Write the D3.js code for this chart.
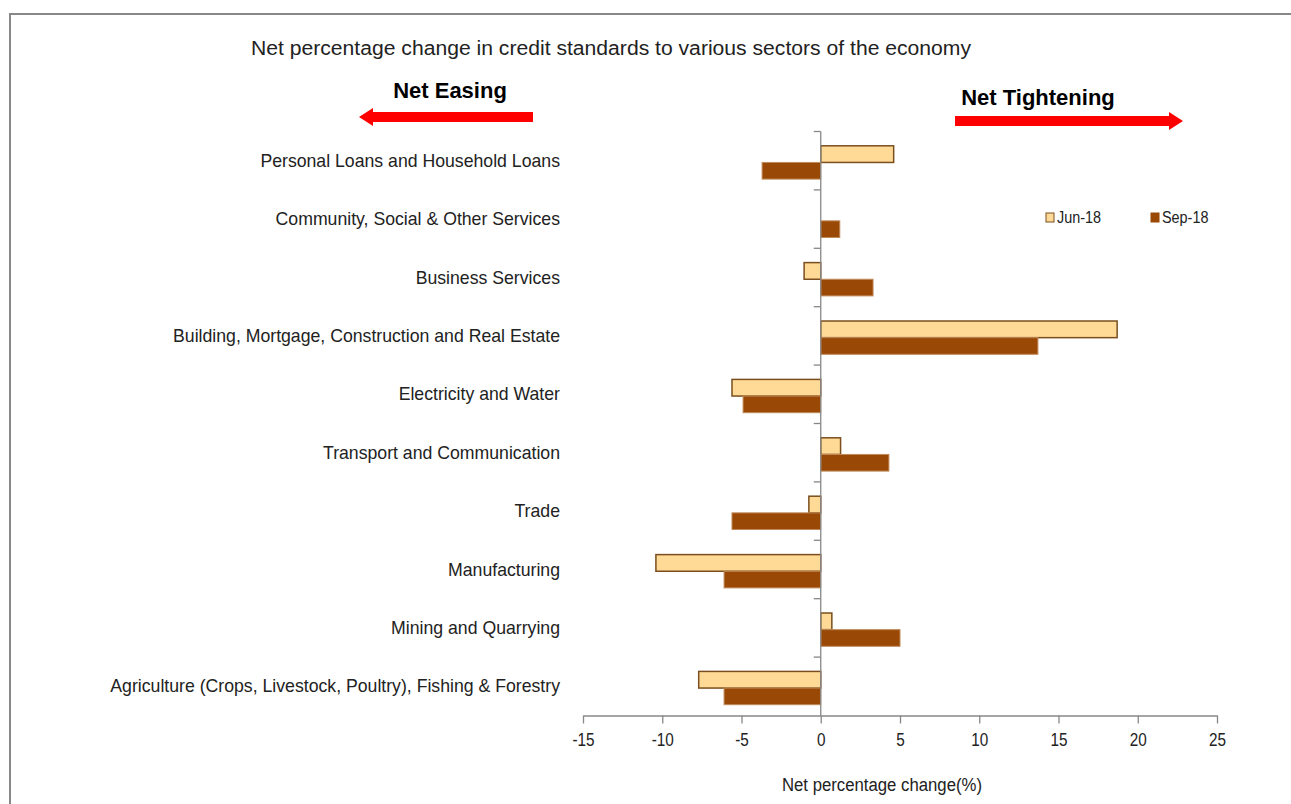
<!DOCTYPE html>
<html>
<head>
<meta charset="utf-8">
<script src="https://cdn.jsdelivr.net/npm/d3@7"></script>
<style>
  html, body { margin: 0; padding: 0; background: #fff; }
  svg { display: block; }
  text { font-family: "Liberation Sans Narrow", "Arial Narrow", "Liberation Sans", Arial, sans-serif; fill: #222; }
  .bold { font-family: "Liberation Sans", Arial, sans-serif; font-weight: bold; fill: #000; }
</style>
</head>
<body>
<svg id="chart" width="1291" height="804"></svg>
<script>
const categories = [
  "Personal Loans and Household Loans",
  "Community, Social & Other Services",
  "Business Services",
  "Building, Mortgage, Construction and Real Estate",
  "Electricity and Water",
  "Transport and Communication",
  "Trade",
  "Manufacturing",
  "Mining and Quarrying",
  "Agriculture (Crops, Livestock, Poultry), Fishing & Forestry"
];
const seriesNames = ["Jun-18", "Sep-18"];
const jun18 = [4.6, 0, -1.05, 18.7, -5.6, 1.25, -0.75, -10.4, 0.7, -7.7];
const sep18 = [-3.7, 1.2, 3.3, 13.7, -4.9, 4.3, -5.6, -6.1, 5.0, -6.1];
const xTicks = [-15, -10, -5, 0, 5, 10, 15, 20, 25];
const title = "Net percentage change in credit standards to various sectors of the economy";
const xTitle = "Net percentage change(%)";

(function () {
const svg = d3.select("#chart");
const fills = ["#FFDA96", "#9A4806"];
const strokes = ["#7A4E1E", "#C08A5A"];

// frame
svg.append("path").attr("d", "M10,1291 L10,14 L1291,14")
  .attr("fill", "none").attr("stroke", "#888").attr("stroke-width", 2);

const pLeft = 583, pRight = 1217, pTop = 131.5, pBottom = 715.5;
const x = d3.scaleLinear().domain([-15, 25]).range([pLeft, pRight]);
const y = d3.scaleBand().domain(categories).range([pTop, pBottom]).paddingInner(0).paddingOuter(0);
const bw = y.bandwidth();
const inner = d3.scaleBand().domain(seriesNames).range([0.245 * bw, 0.815 * bw]).paddingOuter(0).paddingInner(0);

function condense(sel, f) {
  sel.each(function () {
    const len = this.getComputedTextLength();
    d3.select(this).attr("textLength", len * f).attr("lengthAdjust", "spacingAndGlyphs");
  });
}

svg.append("text").attr("x", 611).attr("y", 55).attr("text-anchor", "middle")
  .style("font-size", "20px").style("font-family", "'Liberation Sans', Arial, sans-serif")
  .attr("textLength", 720).attr("lengthAdjust", "spacingAndGlyphs")
  .text(title);

// bars
const data = [];
categories.forEach((c, i) => {
  data.push({c, s: seriesNames[0], v: jun18[i], k: 0});
  data.push({c, s: seriesNames[1], v: sep18[i], k: 1});
});
svg.append("g").selectAll("rect").data(data.filter(d => d.v !== 0)).join("rect")
  .attr("x", d => x(Math.min(0, d.v)))
  .attr("width", d => Math.abs(x(d.v) - x(0)))
  .attr("y", d => y(d.c) + inner(d.s))
  .attr("height", inner.bandwidth())
  .attr("fill", d => fills[d.k])
  .attr("stroke", d => strokes[d.k])
  .attr("stroke-width", d => d.k === 0 ? 1.5 : 1);

// x axis
const xAxis = svg.append("g").attr("transform", `translate(0,${pBottom})`)
  .call(d3.axisBottom(x).tickValues(xTicks).tickSize(8).tickSizeOuter(0).tickFormat(d => String(d)));
xAxis.select(".domain").attr("stroke", "#888").attr("stroke-width", 1.3);
xAxis.selectAll(".tick line").attr("stroke", "#888").attr("stroke-width", 1.3);
xAxis.selectAll(".tick text").attr("dy", "1.05em").attr("y", 12)
  .style("font-size", "18px").attr("fill", "#222")
  .style("font-family", "'Liberation Sans Narrow', 'Arial Narrow', 'Liberation Sans', sans-serif");
condense(xAxis.selectAll(".tick text"), 0.85);

// y axis at zero
const yAxisG = svg.append("g").attr("transform", `translate(${x(0)},0)`);
yAxisG.append("line").attr("x1", 0).attr("x2", 0).attr("y1", pTop).attr("y2", pBottom)
  .attr("stroke", "#888").attr("stroke-width", 1.3);
const boundaries = categories.map(c => y(c));
yAxisG.selectAll("line.t").data(boundaries).join("line").attr("class", "t")
  .attr("x1", -7).attr("x2", 0).attr("y1", d => d).attr("y2", d => d)
  .attr("stroke", "#888").attr("stroke-width", 1.3);

// category labels
const labels = svg.append("g").selectAll("text").data(categories).join("text")
  .attr("x", 560).attr("y", c => y(c) + y.bandwidth() / 2 + 6)
  .attr("text-anchor", "end")
  .style("font-size", "18.5px")
  .text(c => c);
condense(labels, 0.955);

// x title
const xt = svg.append("text").attr("x", 882).attr("y", 791).attr("text-anchor", "middle")
  .style("font-size", "18px").text(xTitle);
condense(xt, 0.93);

// legend
const legend = [{n: seriesNames[0], x: 1046}, {n: seriesNames[1], x: 1151}];
legend.forEach((l, i) => {
  svg.append("rect").attr("x", l.x).attr("y", 213).attr("width", 8).attr("height", 9)
    .attr("fill", fills[i]).attr("stroke", i === 0 ? strokes[0] : fills[1]).attr("stroke-width", 1);
  const t = svg.append("text").attr("x", l.x + 11).attr("y", 223).style("font-size", "16px").text(l.n);
  condense(t, 0.9);
});

// direction annotations
svg.append("text").attr("class", "bold").attr("x", 450).attr("y", 98).attr("text-anchor", "middle")
  .style("font-size", "22px").text("Net Easing");
svg.append("text").attr("class", "bold").attr("x", 1038).attr("y", 105).attr("text-anchor", "middle")
  .style("font-size", "22px").text("Net Tightening");

function arrow(x1, x2, yy) {
  const dir = Math.sign(x2 - x1);
  const h = 14, th = 5, hw = 9;
  const p = d3.path();
  p.moveTo(x1, yy - th); p.lineTo(x2 - dir * h, yy - th); p.lineTo(x2 - dir * h, yy - hw);
  p.lineTo(x2, yy); p.lineTo(x2 - dir * h, yy + hw); p.lineTo(x2 - dir * h, yy + th);
  p.lineTo(x1, yy + th); p.closePath();
  svg.append("path").attr("d", p.toString()).attr("fill", "#FF0000");
}
arrow(533, 359, 117);
arrow(955, 1183, 121);
})();
</script>
</body>
</html>
